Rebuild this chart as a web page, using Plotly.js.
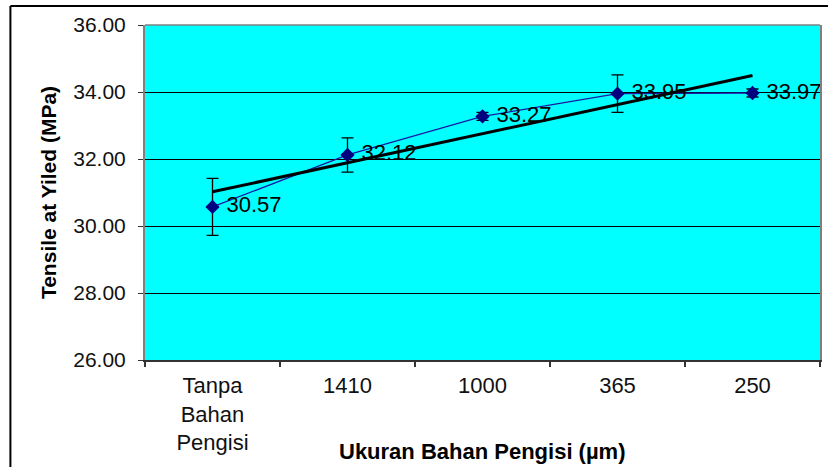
<!DOCTYPE html>
<html>
<head>
<meta charset="utf-8">
<script src="https://cdn.plot.ly/plotly-3.0.1.min.js"></script>
<style>html,body{margin:0;padding:0;background:#fff;}#chart{width:828px;height:467px;}</style>
</head>
<body>
<div id="chart"></div>
<script>
const categories = ["Tanpa<br>Bahan<br>Pengisi", "1410", "1000", "365", "250"];
const tensileValues = [30.57, 32.12, 33.27, 33.95, 33.97];
const errorValues = [0.85, 0.51, 0.12, 0.56, 0.12];
const valueLabels = ["30.57", "32.12", "33.27", "33.95", "33.97"];
const trendCategories = ["Tanpa<br>Bahan<br>Pengisi", "250"];
const trendValues = [31.02, 34.49];
const yTickValues = [26, 28, 30, 32, 34, 36];
const xTitle = 'Ukuran Bahan Pengisi (µm)';
const yTitle = 'Tensile at Yiled (MPa)';

const FONT = '"Liberation Sans", Arial, sans-serif';

const dataTrace = {
  x: categories,
  y: tensileValues,
  type: 'scatter',
  mode: 'lines+markers+text',
  text: valueLabels.map(function (s) { return '\u00a0' + s; }),
  textposition: 'middle right',
  textfont: {family: FONT, size: 22, color: '#000'},
  line: {color: '#1a1aa6', width: 1.3},
  marker: {symbol: 'diamond', size: 11, color: '#000080'},
  error_y: {type: 'data', array: errorValues, visible: true, color: '#000', thickness: 1.3, width: 6},
  cliponaxis: false,
  showlegend: false,
  hoverinfo: 'skip'
};

const trendTrace = {
  x: trendCategories,
  y: trendValues,
  type: 'scatter',
  mode: 'lines',
  line: {color: '#000', width: 3},
  showlegend: false,
  hoverinfo: 'skip'
};

const layout = {
  width: 828,
  height: 467,
  margin: {l: 145, r: 6, t: 25, b: 107},
  paper_bgcolor: '#ffffff',
  plot_bgcolor: '#00ffff',
  font: {family: FONT, color: '#000'},
  showlegend: false,
  xaxis: {
    type: 'category',
    categoryorder: 'array',
    categoryarray: categories,
    range: [-0.5, 4.5],
    tickson: 'boundaries',
    ticks: 'outside',
    ticklen: 5,
    tickcolor: '#333',
    tickwidth: 1.3,
    showgrid: false,
    showline: true,
    linecolor: '#333',
    linewidth: 1.5,
    tickfont: {family: FONT, size: 22, color: '#111'},
    ticklabelstandoff: 5
  },
  yaxis: {
    range: [26, 36],
    tickvals: yTickValues,
    tickformat: '.2f',
    ticks: 'outside',
    ticklen: 5,
    tickcolor: '#333',
    showgrid: true,
    gridcolor: '#000',
    gridwidth: 1,
    zeroline: false,
    showline: true,
    mirror: true,
    linecolor: '#808080',
    linewidth: 2,
    tickfont: {family: FONT, size: 21, color: '#111'},
    ticklabelstandoff: 8,
    automargin: true,
    title: {text: yTitle, standoff: 11, font: {family: FONT, size: 21, color: '#000', weight: 'bold'}}
  },
  annotations: [
    {text: xTitle, xref: 'paper', yref: 'paper', x: 0.5, y: -0.2746, xanchor: 'center', yanchor: 'middle',
     showarrow: false, font: {family: FONT, size: 22, color: '#000', weight: 'bold'}}
  ],
  shapes: [
    {type: 'line', xref: 'paper', yref: 'paper', x0: 0, x1: 1, y0: 1, y1: 1, line: {color: '#808080', width: 1.5}},
    {type: 'line', xref: 'paper', yref: 'paper', x0: -0.1994, x1: -0.1994, y0: 1.0567, y1: -0.34, line: {color: '#000', width: 2}},
    {type: 'line', xref: 'paper', yref: 'paper', x0: -0.1994, x1: 1.02, y0: 1.0567, y1: 1.0567, line: {color: '#000', width: 2}}
  ]
};

Plotly.newPlot('chart', [dataTrace, trendTrace], layout, {staticPlot: true, displayModeBar: false});
</script>
</body>
</html>
